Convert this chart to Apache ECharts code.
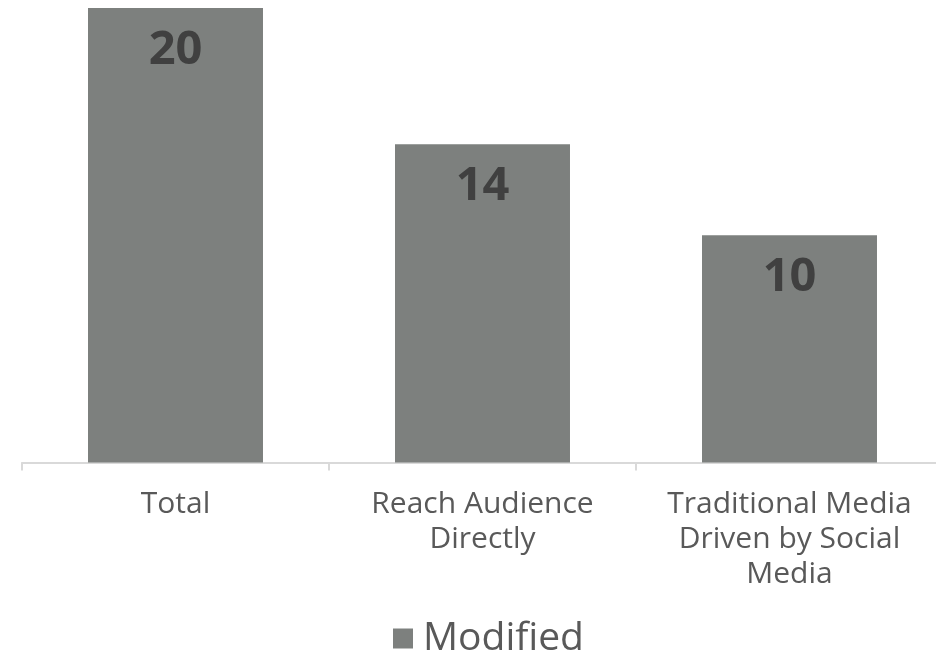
<!DOCTYPE html>
<html>
<head>
<meta charset="utf-8">
<script src="https://cdn.jsdelivr.net/npm/echarts@6/dist/echarts.min.js"></script>
<style>
  html, body { margin: 0; padding: 0; background: #ffffff; overflow: hidden; }
  #chart { width: 944px; height: 656px; }
</style>
</head>
<body>
<div id="chart"></div>
<script>
// Categories and values for the bar chart
const categories = ['Total', 'Reach Audience\nDirectly', 'Traditional Media\nDriven by Social\nMedia'];
const modifiedValues = [20, 14, 10];
const seriesName = 'Modified';

const chart = echarts.init(document.getElementById('chart'), null, { renderer: 'canvas' });

chart.setOption({
  animation: false,
  backgroundColor: '#ffffff',
  textStyle: { fontFamily: '"Open Sans", sans-serif' },
  grid: { left: 22, right: 1, top: 8, bottom: 193.5, containLabel: false },
  legend: {
    data: [seriesName],
    bottom: -7,
    left: 388,
    itemWidth: 20,
    itemHeight: 20,
    itemGap: 10,
    icon: 'rect',
    textStyle: {
      fontSize: 39,
      color: '#595959',
      fontFamily: '"Open Sans", sans-serif',
      padding: [0, 0, 0, 5]
    }
  },
  xAxis: {
    type: 'category',
    data: categories,
    axisLine: { lineStyle: { color: '#d9d9d9', width: 2 } },
    axisTick: { show: true, length: 8, lineStyle: { color: '#d9d9d9', width: 2 } },
    axisLabel: {
      interval: 0,
      margin: 24,
      fontSize: 30,
      lineHeight: 35,
      color: '#595959',
      fontFamily: '"Open Sans", sans-serif'
    }
  },
  yAxis: {
    type: 'value',
    min: 0,
    max: 20,
    show: false,
    splitLine: { show: false }
  },
  series: [{
    name: seriesName,
    type: 'bar',
    data: modifiedValues,
    barWidth: '57%',
    itemStyle: { color: '#7d807e' },
    label: {
      show: true,
      position: 'insideTop',
      distance: 19,
      fontSize: 47,
      fontWeight: 'bold',
      color: '#404040',
      fontFamily: '"Open Sans", sans-serif'
    }
  }]
});
</script>
</body>
</html>
